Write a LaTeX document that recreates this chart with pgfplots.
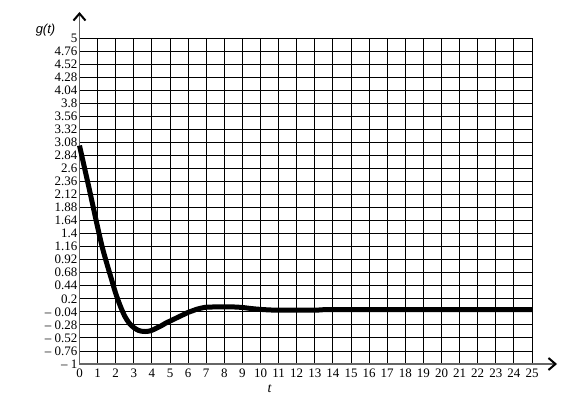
\documentclass[border=0pt]{standalone}
\usepackage{fontspec}
\setmainfont{Liberation Serif}
\newfontfamily\sansfont{Liberation Sans}
\usepackage{pgfplots}
\pgfplotsset{compat=1.18}
\usetikzlibrary{arrows.meta}
\begin{document}
\begin{tikzpicture}
\begin{axis}[
  scale only axis, width=452.5bp, height=326bp,
  xmin=0, xmax=25, ymin=-1, ymax=5,
  axis lines=left,
  axis line style={line width=1.6bp, black!60},
  x axis line style={-{Straight Barb[length=7bp,width=12bp,line width=2bp,color=black]}, shorten >=-25bp},
  y axis line style={-{Straight Barb[length=7bp,width=12bp,line width=2bp,color=black]}, shorten >=-26bp},
  grid=major, grid style={black, line width=0.9bp},
  major tick length=0pt,
  xtick={0,1,...,25},
  ytick={-1,-0.76,-0.52,-0.28,-0.04,0.2,0.44,0.68,0.92,1.16,1.4,1.64,1.88,2.12,2.36,2.6,2.84,3.08,3.32,3.56,3.8,4.04,4.28,4.52,4.76,5},
  yticklabels={{--\ 1},{--\ 0.76},{--\ 0.52},{--\ 0.28},{--\ 0.04},0.2,0.44,0.68,0.92,1.16,1.4,1.64,1.88,2.12,2.36,2.6,2.84,3.08,3.32,3.56,3.8,4.04,4.28,4.52,4.76,5},
  /pgf/number format/assume math mode=true,
  ticklabel style={font=\fontsize{13}{13}\selectfont},
  yticklabel style={inner sep=1bp, xshift=-1bp},
  xticklabel style={inner sep=1bp, yshift=-4bp},
  clip=false,
]
\addplot[black, line width=5bp, line join=round, smooth] coordinates {
(0,3.02) (0.25,2.65) (0.5,2.28) (0.75,1.90) (1.0,1.52) (1.25,1.16) (1.5,0.86)
(1.75,0.58) (2.0,0.30) (2.25,0.07) (2.5,-0.12) (2.75,-0.25) (3.0,-0.33)
(3.25,-0.38) (3.5,-0.40) (3.75,-0.40) (4.0,-0.38) (4.25,-0.34) (4.5,-0.30)
(4.75,-0.25) (5.0,-0.21) (5.25,-0.17) (5.5,-0.13) (5.75,-0.09) (6.0,-0.05)
(6.25,-0.02) (6.5,0.01) (6.75,0.03) (7.0,0.045) (7.5,0.05) (8.0,0.05)
(8.5,0.05) (9.0,0.04) (9.5,0.02) (10,0.005) (10.5,-0.005) (11,-0.01)
(12,-0.01) (13,-0.01) (13.5,0.0) (14,0) (16,0) (18,0) (20,0) (22,0) (24,0) (25,0)
};
\node[font=\fontsize{14}{14}\selectfont\itshape] at (axis cs:10.5,-1) [yshift=-25bp] {t};
\node[font=\fontsize{13}{13}\selectfont\sansfont\itshape] at (rel axis cs:0,1) [xshift=-34bp, yshift=8bp] {g(t)};
\end{axis}
\path[use as bounding box] ([xshift=-79.5bp,yshift=-53bp]current axis.south west) rectangle ([xshift=39bp,yshift=38bp]current axis.north east);
\end{tikzpicture}
\end{document}
